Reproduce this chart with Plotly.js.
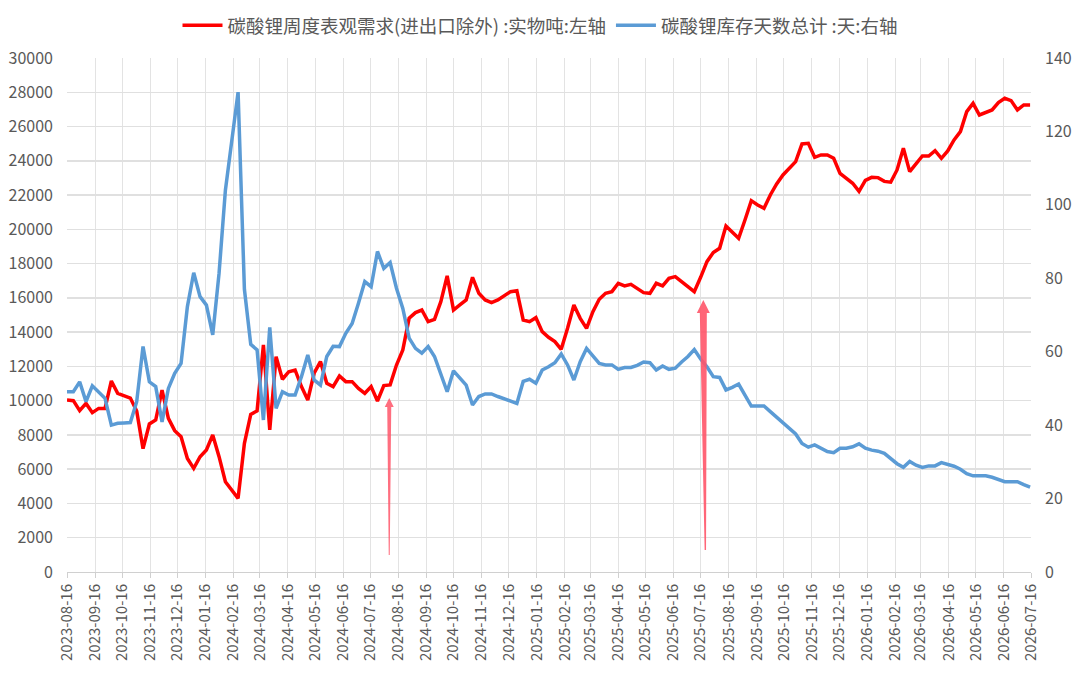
<!DOCTYPE html>
<html>
<head>
<meta charset="utf-8">
<script src="https://cdn.plot.ly/plotly-3.0.1.min.js"></script>
<style>
html,body{margin:0;padding:0;background:#fff;}
#chart{width:1080px;height:683px;}
</style>
</head>
<body>
<div id="chart"></div>
<script>
// weekly observation dates: first week and count
const firstWeek = '2023-08-16';
const weekCount = 153;

const demandName = '碳酸锂周度表观需求(进出口除外) :实物吨:左轴';
const daysName = '碳酸锂库存天数总计 :天:右轴';

// 碳酸锂周度表观需求 (吨)
const demand = [
10040,10000,9420,9840,9300,9550,9550,11150,10430,10300,
10150,9400,7200,8640,8870,10620,8970,8250,7900,6630,
6050,6730,7120,8000,6730,5270,4800,4300,7510,9200,
9400,13250,8300,12570,11250,11690,11790,10820,10040,11600,
12280,11010,10820,11440,11110,11110,10720,10430,10820,9980,
10880,10920,12080,12960,14810,15140,15290,14610,14750,15780,
17280,15290,15590,15880,17200,16265,15877,15720,15877,16110,
16362,16420,14710,14612,14845,14028,13700,13445,12997,14222,
15585,14806,14222,15196,15915,16265,16362,16850,16694,16790,
16557,16304,16265,16850,16694,17142,17238,16947,16616,16362,
17200,18114,18650,18893,20196,19865,19476,20546,21674,21422,
21228,22006,22648,23173,23562,23951,24983,25022,24205,24340,
24340,24147,23270,22979,22688,22220,22860,23037,23018,22800,
22750,23465,24730,23368,23854,24282,24282,24594,24147,24574,
25216,25702,26869,27355,26675,26811,26967,27394,27647,27511,
26967,27259,27259
];

// 碳酸锂库存天数总计 (天)
const stockDays = [
49.1,49.1,51.8,46.4,50.7,49.1,47.3,40.0,40.5,40.6,
40.7,46.4,61.4,51.8,50.5,40.9,50.0,54.1,56.8,72.3,
81.5,75.0,72.7,64.6,81.4,104,116.8,130.7,77,62,
60.5,41.4,66.6,44.6,49.1,48.2,48.2,53.2,59.1,52.3,
50.9,58.7,61.5,61.4,65.0,67.7,73.2,79.1,77.7,87.3,
82.7,84.3,77.3,71.8,63.7,60.9,59.6,61.4,58.7,54.1,
49.1,54.8,53.0,50.9,45.5,47.8,48.5,48.5,47.8,47.2,
46.6,45.9,51.9,52.5,51.4,55.0,55.9,57.0,59.4,56.4,
52.3,57.3,60.9,58.7,56.8,56.4,56.4,55.2,55.7,55.7,
56.3,57.2,57.0,55.0,56.1,55.2,55.5,57.2,58.7,60.6,
58.0,55.9,53.2,53.0,49.6,50.3,51.2,48.2,45.2,45.2,
45.2,43.7,42.1,40.5,39.1,37.6,35.0,34.0,34.6,33.7,
32.8,32.5,33.7,33.7,34.1,34.9,33.7,33.2,32.9,32.3,
31.0,29.5,28.5,30.1,29.1,28.5,28.9,28.9,29.8,29.4,
28.8,28.0,26.8,26.2,26.3,26.2,25.8,25.2,24.6,24.6,
24.6,23.8,23.1
];

// annotation arrows: date and the value they point to
const arrowDates = ['2024-08-06', '2025-07-19'];
const arrowValues = [10150, 15877];

const dates = [];
{
  const d0 = new Date(firstWeek + 'T00:00:00Z');
  for (let i = 0; i < weekCount; i++) {
    const d = new Date(d0.getTime() + i * 7 * 86400000);
    dates.push(d.toISOString().slice(0, 10));
  }
}

const txt = '#595959';
const fontFam = '"Noto Sans CJK SC", "Noto Sans", sans-serif';

const traces = [
  {x: dates, y: demand, name: demandName, type: 'scatter', mode: 'lines',
   line: {color: '#ff0000', width: 3.5}, yaxis: 'y'},
  {x: dates, y: stockDays, name: daysName, type: 'scatter', mode: 'lines',
   line: {color: '#5b9bd5', width: 3.5}, yaxis: 'y2'}
];

const arrowShape = (xd, yv, hw, hh, topw, botw, len, slant, col) => ({
  type: 'path', xref: 'x', yref: 'y', xsizemode: 'pixel', ysizemode: 'pixel',
  xanchor: xd, yanchor: yv,
  path: `M0,0 L${-hw},${-hh} L${-topw},${-hh} L${slant - botw},${-len} L${slant + botw},${-len} L${topw},${-hh} L${hw},${-hh} Z`,
  fillcolor: col, line: {width: 0}, layer: 'above'
});

const layout = {
  width: 1080, height: 683,
  margin: {l: 67, r: 49, t: 58, b: 111, pad: 0, autoexpand: false},
  paper_bgcolor: '#ffffff', plot_bgcolor: '#ffffff',
  font: {family: fontFam, color: txt, size: 14},
  showlegend: true,
  legend: {orientation: 'h', x: 0.5, xanchor: 'center', xref: 'container',
    y: 0.99, yanchor: 'top', yref: 'container',
    font: {size: 18.5, color: txt, family: fontFam}, itemwidth: 40, tracegroupgap: 0,
    bgcolor: 'rgba(0,0,0,0)'},
  xaxis: {
    type: 'date', range: ['2023-08-16', '2026-07-16'],
    tickmode: 'linear', tick0: '2023-08-16', dtick: 'M1', tickformat: '%Y-%m-%d',
    tickangle: -90, tickfont: {size: 15, color: txt, family: fontFam},
    showgrid: true, gridcolor: '#e3e3e3', gridwidth: 1,
    showline: true, linecolor: '#d0d0d0', linewidth: 1,
    ticks: 'outside', ticklen: 5, tickcolor: '#d0d0d0', zeroline: false
  },
  yaxis: {
    range: [0, 30000], tickmode: 'linear', tick0: 0, dtick: 2000, tickformat: 'd',
    tickfont: {size: 16, color: txt, family: fontFam},
    showgrid: true, gridcolor: '#e0e0e0', gridwidth: 1.5, zeroline: false,
    showline: false, ticks: '', ticklabelstandoff: 13
  },
  yaxis2: {
    overlaying: 'y', side: 'right', range: [0, 140], tickmode: 'linear', tick0: 0, dtick: 20,
    tickfont: {size: 16, color: txt, family: fontFam},
    showgrid: false, zeroline: false, showline: false, ticks: '', ticklabelstandoff: 13
  },
  shapes: [
    arrowShape(arrowDates[0], arrowValues[0], 4.5, 9, 2, 0.5, 157, 0, 'rgba(255,85,105,0.85)'),
    arrowShape(arrowDates[1], arrowValues[1], 6.5, 13, 3.5, 0.7, 250, 2, 'rgba(255,85,105,0.9)')
  ]
};

Plotly.newPlot('chart', traces, layout, {displayModeBar: false, staticPlot: true});
</script>
</body>
</html>
